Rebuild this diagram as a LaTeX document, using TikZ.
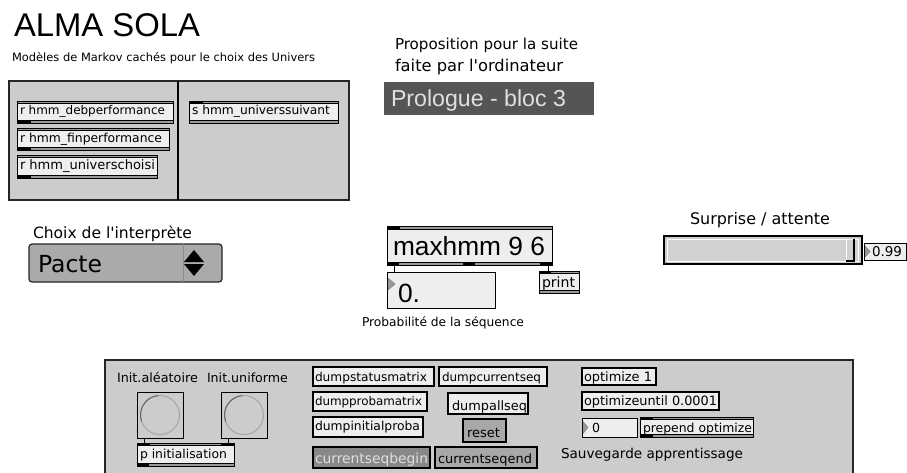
\documentclass[tikz,border=0pt]{standalone}
\usepackage{fontspec}
\usepackage{graphicx}
\usetikzlibrary{calc}
\setmainfont{DejaVu Sans}
\newfontfamily\titlefont{Liberation Sans}
\newfontfamily\uifont{DejaVu Sans}

\definecolor{panel}{HTML}{CCCCCC}
\definecolor{boxfill}{HTML}{EEEEEE}
\definecolor{stripfill}{HTML}{9A9A9A}
\definecolor{darkbox}{HTML}{555555}
\definecolor{menufill}{HTML}{AAAAAA}
\definecolor{msgmid}{HTML}{A8A8A8}
\definecolor{msgdark}{HTML}{888888}
\definecolor{lighttext}{HTML}{E0E0E0}

% scale a text to a given width (in pt)
\newcommand\fitw[2]{\resizebox{#1pt}{!}{#2}}

% Max-style object box: grey strips on top and bottom, black frame
\newcommand\strips[2]{%
  \fill[stripfill] (#1.north west) rectangle ([yshift=-#2pt]#1.north east);
  \fill[stripfill] (#1.south west) rectangle ([yshift=#2pt]#1.south east);
  \draw[line width=0.5pt] ([yshift=-#2pt]#1.north west) -- ([yshift=-#2pt]#1.north east);
  \draw[line width=0.5pt] ([yshift=#2pt]#1.south west) -- ([yshift=#2pt]#1.south east);
  \draw[line width=0.9pt] (#1.north west) rectangle (#1.south east);}
% inlet / outlet marks: node, x offset, width, strip height
\newcommand\inport[4]{\fill ([xshift=#2pt]#1.north west) rectangle ([xshift=#2pt+#3pt,yshift=-#4pt]#1.north west);}
\newcommand\outport[4]{\fill ([xshift=#2pt]#1.south west) rectangle ([xshift=#2pt+#3pt,yshift=#4pt]#1.south west);}
% round bang indicator with a shaded rim
\newcommand\bangring[1]{%
  \draw[fill=panel, draw=black!35, line width=1pt] (#1.center) circle[radius=19.5pt];
  \draw[black!60, line width=1pt] ([shift={(200:19.5pt)}]#1.center) arc[start angle=200, end angle=95, radius=19.5pt];}

\tikzset{
  frame/.style={rectangle, anchor=north west, inner sep=0pt, outer sep=0pt},
  wh/.style 2 args={minimum width=#1pt, minimum height=#2pt},
  panelbox/.style={frame, draw=black!85, line width=1.2pt, fill=panel},
  objbox/.style={frame, fill=boxfill},
  msgbox/.style={frame, fill=boxfill, draw=black, line width=1.3pt},
  numbox/.style={frame, fill=boxfill, draw=black, line width=0.9pt},
  lbl/.style={anchor=base west, inner sep=0pt, outer sep=0pt},
  patch/.style={line width=0.9pt},
  tri/.style={fill=black!40, draw=black!55, line width=0.4pt},
}

\begin{document}
\begin{tikzpicture}[x=1pt,y=-1pt]
\useasboundingbox[fill=white] (0,0) rectangle (907,473);

% ---------- header ----------
\node[lbl] (title) at (14,37) {\fitw{186}{\titlefont ALMA SOLA}};
\node[lbl] (subtitle) at (12,62) {\fitw{303}{\uifont Modèles de Markov cachés pour le choix des Univers}};

% ---------- send / receive panel ----------
\node[panelbox, wh={340}{119}] (srpanel) at (9,81) {};
\draw[line width=2.5pt] ([xshift=169pt]srpanel.north west) -- ([xshift=169pt]srpanel.south west);

\node[objbox, wh={156}{22}] (debperf) at (17,101) {};
\strips{debperf}{2.6}\outport{debperf}{0}{14}{2.6}
\node[lbl] (debperft) at (20,115) {\fitw{145}{\uifont r hmm\_debperformance}};

\node[objbox, wh={152}{22}] (finperf) at (17,128) {};
\strips{finperf}{2.6}\outport{finperf}{0}{14}{2.6}
\node[lbl] (finperft) at (20,143) {\fitw{142}{\uifont r hmm\_finperformance}};

\node[objbox, wh={140}{23}] (univch) at (17,155) {};
\strips{univch}{2.6}\outport{univch}{0}{14}{2.6}
\node[lbl] (univcht) at (20,170) {\fitw{135}{\uifont r hmm\_universchoisi}};

\node[objbox, wh={149}{22}] (univsv) at (189,101) {};
\strips{univsv}{2.6}\inport{univsv}{0}{14}{2.6}
\node[lbl] (univsvt) at (192,115) {\fitw{138}{\uifont s hmm\_universsuivant}};

% ---------- proposal display ----------
\node[lbl] (prop1) at (395,50) {\fitw{183}{\uifont Proposition pour la suite}};
\node[lbl] (prop2) at (395,72) {\fitw{168}{\uifont faite par l'ordinateur}};
\node[frame, fill=darkbox, wh={210}{33}] (prologue) at (384,82) {};
\node[lbl, text=lighttext] (prologuet) at (391,107) {\fitw{175}{\titlefont Prologue - bloc 3}};

% ---------- performer menu ----------
\node[lbl] (choix) at (33,238) {\fitw{159}{\uifont Choix de l'interprète}};
\node[frame, wh={193}{38}, fill=menufill, draw=black!85, line width=1.2pt, rounded corners=3pt] (menu) at (29,244) {};
\draw[black!45, line width=0.8pt] ([xshift=154pt]menu.north west) -- ([xshift=154pt]menu.south west);
\node[lbl] (menut) at (38,272) {\fitw{64}{\uifont Pacte}};
\fill ($(menu.north west)+(165,6)$) -- ++(10,12) -- ++(-20,0) -- cycle;
\fill ($(menu.north west)+(165,32)$) -- ++(10,-12) -- ++(-20,0) -- cycle;

% ---------- maxhmm object ----------
\node[objbox, wh={165}{39}] (maxhmm) at (387,226) {};
\strips{maxhmm}{3}
\inport{maxhmm}{0}{13}{3}
\outport{maxhmm}{0}{12}{3}\outport{maxhmm}{76}{12}{3}\outport{maxhmm}{153}{12}{3}
\node[lbl] (maxhmmt) at (393,255) {\fitw{152}{\titlefont maxhmm 9 6}};

\node[numbox, wh={108}{36}] (proba) at (387,272) {};
\fill[tri] ($(proba.north west)+(1,6)$) -- ++(7,6) -- ++(-7,6) -- cycle;
\node[lbl] (probat) at (398,302) {\fitw{22}{\titlefont 0.}};
\node[lbl] (probalbl) at (362,326) {\fitw{162}{\uifont Probabilité de la séquence}};

\node[objbox, wh={40}{22}] (print) at (539,271) {};
\strips{print}{2.6}\inport{print}{0}{12}{2.6}
\node[lbl] (printt) at (542,287) {\fitw{33}{\uifont print}};

\draw[patch] ([xshift=7pt]maxhmm.south west) -- ([xshift=7pt]proba.north west);
\draw[patch] ([xshift=-4pt]maxhmm.south east) -- ([xshift=9pt]print.north west);

% ---------- surprise slider ----------
\node[lbl] (surprise) at (690,225) {\fitw{140}{\uifont Surprise / attente}};
\node[frame, wh={198}{28}, fill=panel, draw=black, line width=1.2pt] (slider) at (664,236) {};
\draw[fill=black!18, draw=white] ($(slider.north west)+(3,3)$) rectangle ($(slider.south east)+(-4,-3)$);
\draw[line width=1.2pt] ($(slider.south east)+(-16,-3)$) -- ++(8,0) -- ++(0,-22);
\draw[white, line width=0.8pt] ($(slider.south east)+(-16,-4)$) -- ++(0,-20);
\node[numbox, wh={42}{17}] (surpval) at (864,243) {};
\fill[tri] ($(surpval.north west)+(1,3)$) -- ++(5,5.5) -- ++(-5,5.5) -- cycle;
\node[lbl] (surpvalt) at (872,256) {\fitw{30}{\uifont 0.99}};

% ---------- learning panel ----------
\node[panelbox, wh={748}{125}] (learn) at (105,360) {};

\node[lbl] (initalea) at (117,382) {\fitw{81}{\uifont Init.aléatoire}};
\node[lbl] (initunif) at (207,382) {\fitw{81}{\uifont Init.uniforme}};

\node[frame, wh={46}{46}, fill=panel, draw=black, line width=1pt] (bangalea) at (137,392) {};
\bangring{bangalea}
\node[frame, wh={46}{46}, fill=panel, draw=black, line width=1pt] (bangunif) at (221,392) {};
\bangring{bangunif}

\node[objbox, wh={97}{23}] (pinit) at (137,443) {};
\strips{pinit}{2.6}
\inport{pinit}{0}{13}{2.6}\inport{pinit}{84}{13}{2.6}\outport{pinit}{0}{12}{2.6}
\node[lbl] (pinitt) at (140,458) {\fitw{87}{\uifont p initialisation}};

\draw[patch] ([xshift=7pt]bangalea.south west) -- ([xshift=7pt]pinit.north west);
\draw[patch] ([xshift=7pt]bangunif.south west) -- ([xshift=-6pt]pinit.north east);

% message boxes
\node[msgbox, wh={121}{19}] (mstatus) at (313,367) {};
\node[lbl] (mstatust) at (315,381) {\fitw{112}{\uifont dumpstatusmatrix}};
\node[msgbox, wh={108}{19}] (mcurseq) at (439,367) {};
\node[lbl] (mcurseqt) at (442,381) {\fitw{99}{\uifont dumpcurrentseq}};
\node[msgbox, wh={114}{19}] (mproba) at (313,392) {};
\node[lbl] (mprobat) at (315,405) {\fitw{107}{\uifont dumpprobamatrix}};
\node[msgbox, wh={80}{21}] (mallseq) at (448,393) {};
\node[lbl] (mallseqt) at (452,410) {\fitw{75}{\uifont dumpallseq}};
\node[msgbox, wh={110}{20}] (minit) at (313,417) {};
\node[lbl] (minitt) at (315,430) {\fitw{105}{\uifont dumpinitialproba}};
\node[msgbox, wh={43}{23}, fill=msgmid] (mreset) at (463,419) {};
\node[lbl] (mresett) at (467,437) {\fitw{33}{\uifont reset}};
\node[msgbox, wh={117}{21}, fill=msgdark] (mbegin) at (313,447) {};
\node[lbl, text=lighttext] (mbegint) at (315,463) {\fitw{113}{\uifont currentseqbegin}};
\node[msgbox, wh={102}{21}, fill=msgmid] (mend) at (435,447) {};
\node[lbl] (mendt) at (438,463) {\fitw{94}{\uifont currentseqend}};

\node[msgbox, wh={74}{17}] (mopt) at (582,368) {};
\node[lbl] (mopttext) at (584,381) {\fitw{68}{\uifont optimize 1}};
\node[msgbox, wh={137}{18}] (muntil) at (582,392) {};
\node[lbl] (muntilt) at (584,405) {\fitw{133}{\uifont optimizeuntil 0.0001}};

\node[numbox, wh={55}{19}] (optnum) at (582,418) {};
\fill[tri] ($(optnum.north west)+(1,3.5)$) -- ++(5,6) -- ++(-5,6) -- cycle;
\node[lbl] (optnumt) at (592,432) {\fitw{8}{\uifont 0}};

\node[objbox, wh={113}{20}] (prepend) at (640,417) {};
\strips{prepend}{2.6}\inport{prepend}{0}{13}{2.6}\outport{prepend}{0}{13}{2.6}
\node[lbl] (prependt) at (643,432) {\fitw{109}{\uifont prepend optimize}};

\node[lbl] (sauve) at (561,458) {\fitw{182}{\uifont Sauvegarde apprentissage}};
\end{tikzpicture}
\end{document}
